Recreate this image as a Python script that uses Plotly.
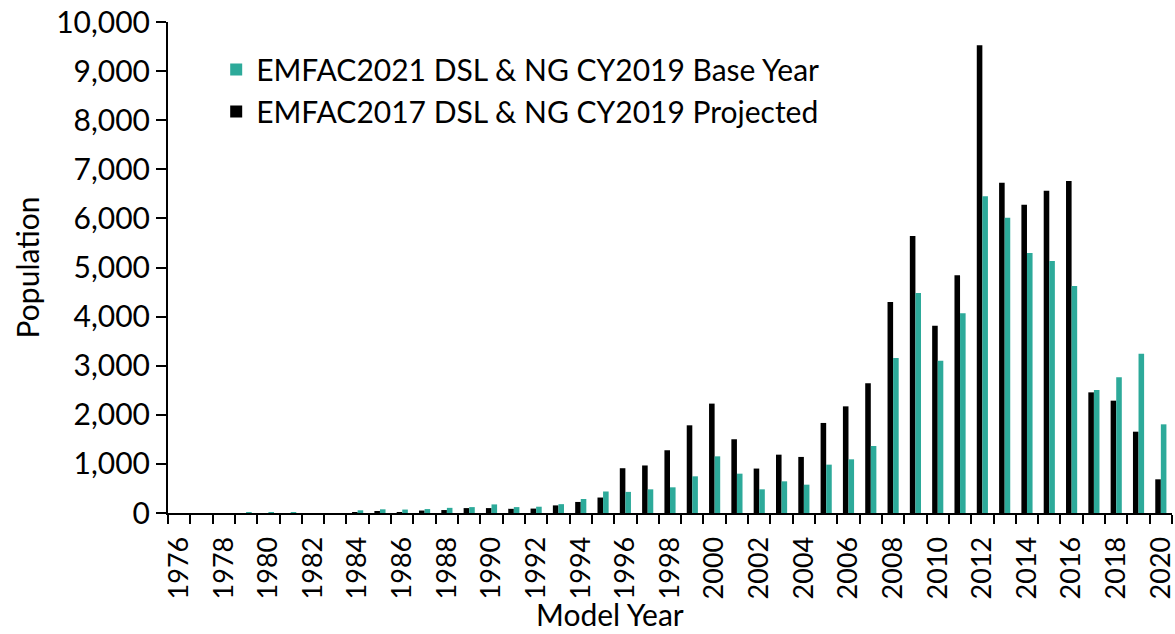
import plotly.graph_objects as go

years = list(range(1976, 2021))

emfac2017 = [0, 0, 0, 0, 0, 0, 0, 0, 10, 35,
             20, 50, 60, 100, 100, 85, 90, 155, 225, 315,
             912, 968, 1278, 1786, 2228, 1502, 905, 1188, 1142, 1834,
             2172, 2641, 4297, 5642, 3815, 4840, 9525, 6728, 6280, 6565,
             6762, 2457, 2288, 1656, 686]

emfac2021 = [0, 0, 0, 10, 15, 15, 0, 0, 55, 75,
             70, 80, 105, 120, 175, 120, 128, 180, 285, 438,
             430, 482, 523, 747, 1154, 801, 482, 645, 577, 985,
             1093, 1365, 3157, 4481, 3103, 4067, 6449, 6015, 5295, 5132,
             4623, 2505, 2763, 3245, 1806]

FONT = "Lato"
TEAL = "#2DAA9A"
FS = 30

fig = go.Figure()
fig.add_trace(go.Bar(x=years, y=emfac2017, name="EMFAC2017 DSL & NG CY2019 Projected",
                     marker=dict(color="black", line=dict(width=0)), legendrank=2))
fig.add_trace(go.Bar(x=years, y=emfac2021, name="EMFAC2021 DSL & NG CY2019 Base Year",
                     marker=dict(color=TEAL, line=dict(width=0)), legendrank=1))

fig.update_layout(
    width=1175, height=634,
    margin=dict(l=168, r=3, t=22, b=121),
    plot_bgcolor="white", paper_bgcolor="white",
    barmode="group", bargap=0.5, bargroupgap=0,
    font=dict(family=FONT, size=FS, color="black"),
    legend=dict(x=0.048, y=0.956, xanchor="left", yanchor="top",
                bgcolor="rgba(0,0,0,0)", font=dict(size=FS), tracegroupgap=0),
    annotations=[dict(text="Model Year", x=0.44, y=-0.205, xref="paper", yref="paper",
                      xanchor="center", yanchor="middle", showarrow=False,
                      font=dict(size=FS))],
)

fig.update_xaxes(
    range=[1975.5, 2020.5], tick0=1976, dtick=2, tickangle=-90,
    ticks="outside", ticklen=11, tickcolor="rgba(0,0,0,0)",
    showline=True, linecolor="black", linewidth=2,
    showgrid=False, zeroline=False, tickfont=dict(size=27), automargin=False,
    ticklabeloverflow="allow",
    minor=dict(tick0=1975.5, dtick=1, ticks="outside", ticklen=9,
               tickcolor="black", tickwidth=2, showgrid=False),
)
fig.update_yaxes(
    range=[0, 10000], dtick=1000, tickformat=",", ticks="outside", ticklen=10,
    tickwidth=2, tickcolor="black", showline=True, linecolor="black", linewidth=2,
    showgrid=False, zeroline=False, tickfont=dict(size=FS), automargin=False,
    title=dict(text="Population", font=dict(size=FS), standoff=8),
)

fig.write_html("out.html", config={"displayModeBar": False},
               post_script="document.body.style.margin='0';document.body.style.overflow='hidden';")
